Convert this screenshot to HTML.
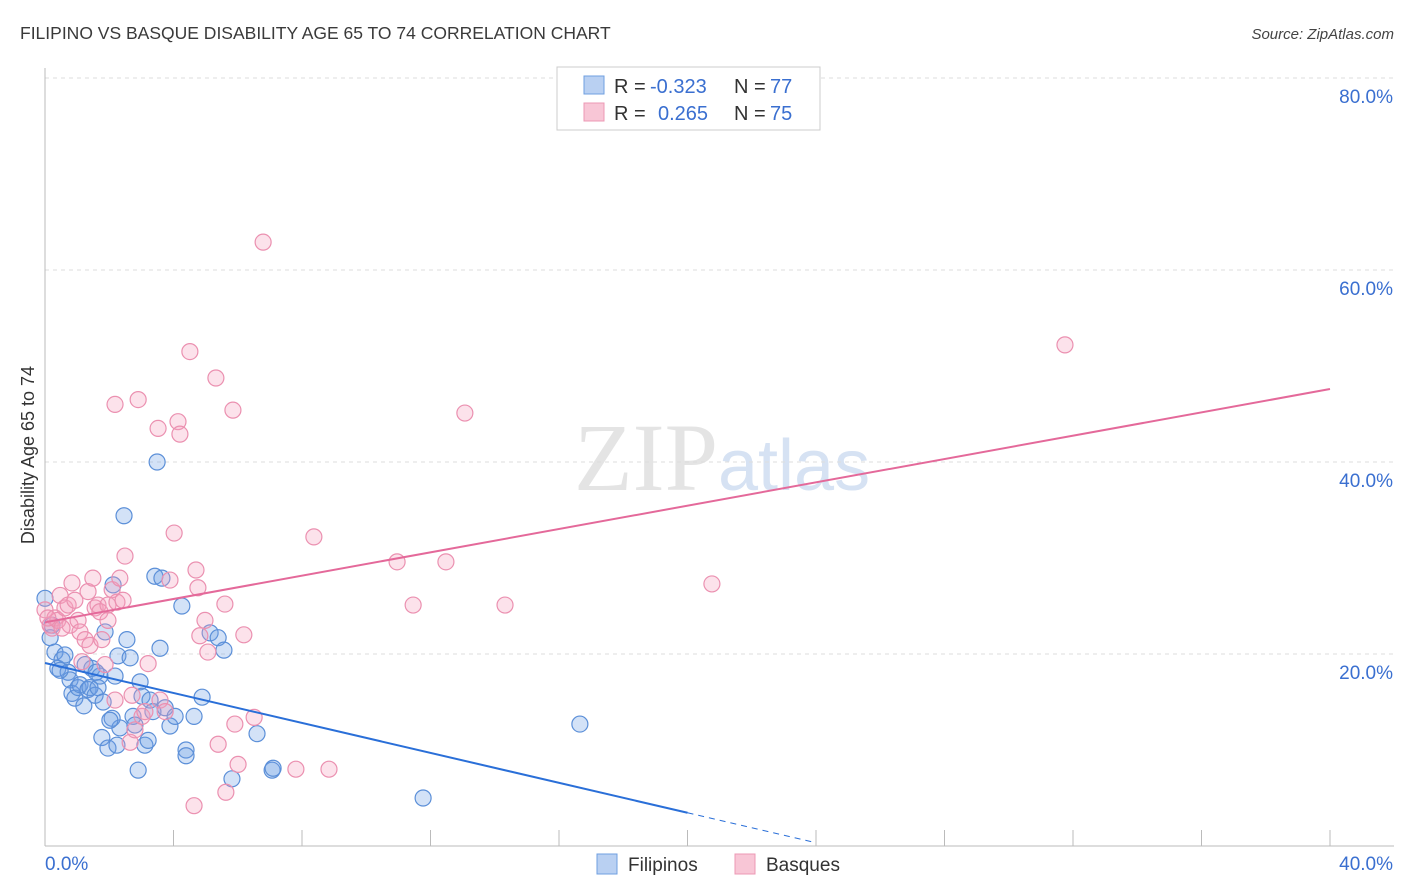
<!DOCTYPE html>
<html><head><meta charset="utf-8">
<style>
body{margin:0;background:#fff;font-family:"Liberation Sans",sans-serif;}
#wrap{position:relative;width:1406px;height:892px;overflow:hidden;}
</style></head>
<body>
<div id="wrap">
<svg id="chart" width="1406" height="892">
<text x="20" y="39" font-size="17.5" fill="#3a3a3a">FILIPINO VS BASQUE DISABILITY AGE 65 TO 74 CORRELATION CHART</text>
<text x="1394" y="39" font-size="15" fill="#444" text-anchor="end" font-style="italic">Source: ZipAtlas.com</text>
<text x="718" y="490" font-size="96" fill="#e4e4e4" text-anchor="end" font-family="Liberation Serif">ZIP</text>
<text x="718" y="490" font-size="72" fill="#d6e2f3">atlas</text>
<text transform="translate(34,455) rotate(-90)" font-size="18" fill="#333" text-anchor="middle">Disability Age 65 to 74</text>
<g id="grid"></g><g id="ticks"></g><g id="pts"></g><g id="lines"></g>
<g>
<rect x="557" y="67" width="263" height="63" fill="#fff" stroke="#ccc"/>
<rect x="584" y="76" width="20" height="18" fill="#b9d0f2" stroke="#6f9fe0"/>
<rect x="584" y="103" width="20" height="18" fill="#f8c6d6" stroke="#ec98b4"/>
<text x="614" y="93" font-size="20" fill="#333">R =</text>
<text x="650" y="93" font-size="20" fill="#3a6fd0">-0.323</text>
<text x="734" y="93" font-size="20" fill="#333">N =</text>
<text x="770" y="93" font-size="20" fill="#3a6fd0">77</text>
<text x="614" y="120" font-size="20" fill="#333">R =</text>
<text x="658" y="120" font-size="20" fill="#3a6fd0">0.265</text>
<text x="734" y="120" font-size="20" fill="#333">N =</text>
<text x="770" y="120" font-size="20" fill="#3a6fd0">75</text>
</g>
<g>
<rect x="597" y="854" width="20" height="20" fill="#b9d0f2" stroke="#6f9fe0"/>
<text x="628" y="871" font-size="19" fill="#333">Filipinos</text>
<rect x="735" y="854" width="20" height="20" fill="#f8c6d6" stroke="#ec98b4"/>
<text x="766" y="871" font-size="19" fill="#333">Basques</text>
</g>
</svg>
</div>
<script>
const yTicks=[20,40,60,80];
const xTickLabels=["0.0%","40.0%"];
const blueX=[0,.22,.16,.31,.40,.53,.62,.72,.78,.84,.93,1.03,1.09,1.21,1.34,1.40,1.46,1.56,1.65,1.71,1.81,1.77,1.87,1.96,2.09,2.18,2.24,2.27,2.33,2.46,2.55,2.65,2.74,2.80,2.90,2.96,3.02,3.11,3.21,3.27,3.36,3.42,3.49,3.58,3.64,3.74,3.89,4.05,4.26,4.39,4.39,4.64,4.89,5.14,5.39,5.57,5.82,6.60,7.07,7.10,11.77,16.65,2.12,1.25,.47,2.02,1.59];
const blueY=[25.8,23.0,21.7,20.2,18.5,19.4,19.9,18.1,17.3,15.9,15.4,16.5,16.8,14.6,16.3,16.5,18.5,15.7,16.5,17.7,15.0,11.3,22.3,10.2,13.3,17.7,10.5,19.8,12.3,34.4,21.5,19.6,13.5,12.6,7.9,17.1,15.6,10.5,11.0,15.2,14.0,28.1,40.0,20.6,27.9,14.4,12.5,13.5,25.0,10.0,9.4,13.5,15.5,22.2,21.7,20.4,7.0,11.7,7.9,8.1,5.0,12.7,27.2,18.9,18.3,13.1,18.1];
const pinkX=[0,.16,.22,.31,.40,.47,.62,.72,.78,.84,.93,1.03,1.09,1.25,1.34,1.40,1.56,1.65,1.71,1.77,1.87,1.96,2.09,2.18,2.18,2.24,2.33,2.43,2.49,2.65,2.71,2.80,2.90,3.02,3.11,3.21,3.52,3.58,3.74,3.89,4.02,4.14,4.20,4.51,4.64,4.70,4.76,4.82,4.98,5.07,5.39,5.32,5.60,5.63,5.85,5.91,6.01,6.19,6.51,6.79,7.81,8.37,8.84,10.96,11.46,12.48,13.07,14.32,20.76,31.75,.09,.53,1.49,1.96,1.15];
const pinkY=[24.6,23.0,22.7,23.75,23.5,26.1,24.8,25.1,23.0,27.4,25.6,23.5,22.3,21.5,26.5,20.9,24.8,25.1,24.4,21.5,18.9,25.1,26.7,15.2,46.0,25.4,27.9,25.6,30.2,10.8,15.7,12.1,46.5,13.5,14.0,19.0,43.5,15.2,14.0,27.7,32.6,44.2,42.9,51.5,4.2,28.75,26.9,21.9,23.5,20.2,10.6,48.75,25.2,5.6,45.4,12.7,8.5,22.0,13.4,62.9,8.0,32.2,8.0,29.6,25.1,29.6,45.1,25.1,27.3,52.2,23.75,22.7,27.9,23.5,19.2];
const blueLine=[19.06,-0.78];
const pinkLine=[23.3,0.6075];
const NS="http://www.w3.org/2000/svg";
const sx=v=>45+v*32.125, sy=v=>846-v*9.6;
function mk(tag,attrs,parent){const e=document.createElementNS(NS,tag);for(const k in attrs)e.setAttribute(k,attrs[k]);document.getElementById(parent).appendChild(e);return e;}
yTicks.forEach(t=>{
 const l=mk('line',{x1:45,x2:1394,y1:sy(t),y2:sy(t),stroke:'#ddd','stroke-dasharray':'4,4'},'grid');
 
 
 const tx=mk('text',{x:1393,y:sy(t)+25,'font-size':19,fill:'#3a6fd0','text-anchor':'end'},'grid');tx.textContent=t.toFixed(1)+'%';
 
 
});
const ax=mk('line',{x1:45,x2:1394,y1:846,y2:846,stroke:'#bbb'},'grid');


const ay=mk('line',{x1:45,x2:45,y1:68,y2:846,stroke:'#bbb'},'grid');


for(let i=1;i<=10;i++){const t=mk('line',{x1:sx(i*4),x2:sx(i*4),y1:830,y2:846,stroke:'#bbb'},'ticks');
 
 }
[[0,'start',45],[40,'end',1393]].forEach((d,i)=>{const t=mk('text',{x:d[2],y:870,'font-size':19,fill:'#3a6fd0','text-anchor':d[1]},'ticks');t.textContent=xTickLabels[i];
 
 });
blueX.forEach((x,i)=>{const c=mk('circle',{cx:sx(x),cy:sy(blueY[i]),r:8,fill:'rgba(110,160,230,0.3)',stroke:'#5b8fd8','stroke-width':1.2},'pts');
 
 });
pinkX.forEach((x,i)=>{const c=mk('circle',{cx:sx(x),cy:sy(pinkY[i]),r:8,fill:'rgba(245,160,190,0.3)',stroke:'#eb90b0','stroke-width':1.2},'pts');
 
 });
const bl=mk('line',{x1:sx(0),y1:sy(blueLine[0]),x2:sx(20),y2:sy(blueLine[0]+blueLine[1]*20),stroke:'#2a6fd8','stroke-width':2},'lines');


const bd=mk('line',{x1:sx(20),y1:sy(blueLine[0]+blueLine[1]*20),x2:sx(24),y2:sy(blueLine[0]+blueLine[1]*24),stroke:'#2a6fd8','stroke-width':1,'stroke-dasharray':'6,5'},'lines');


const pl=mk('line',{x1:sx(0),y1:sy(pinkLine[0]),x2:sx(40),y2:sy(pinkLine[0]+pinkLine[1]*40),stroke:'#e4699a','stroke-width':2},'lines');


</script>
</body></html>
